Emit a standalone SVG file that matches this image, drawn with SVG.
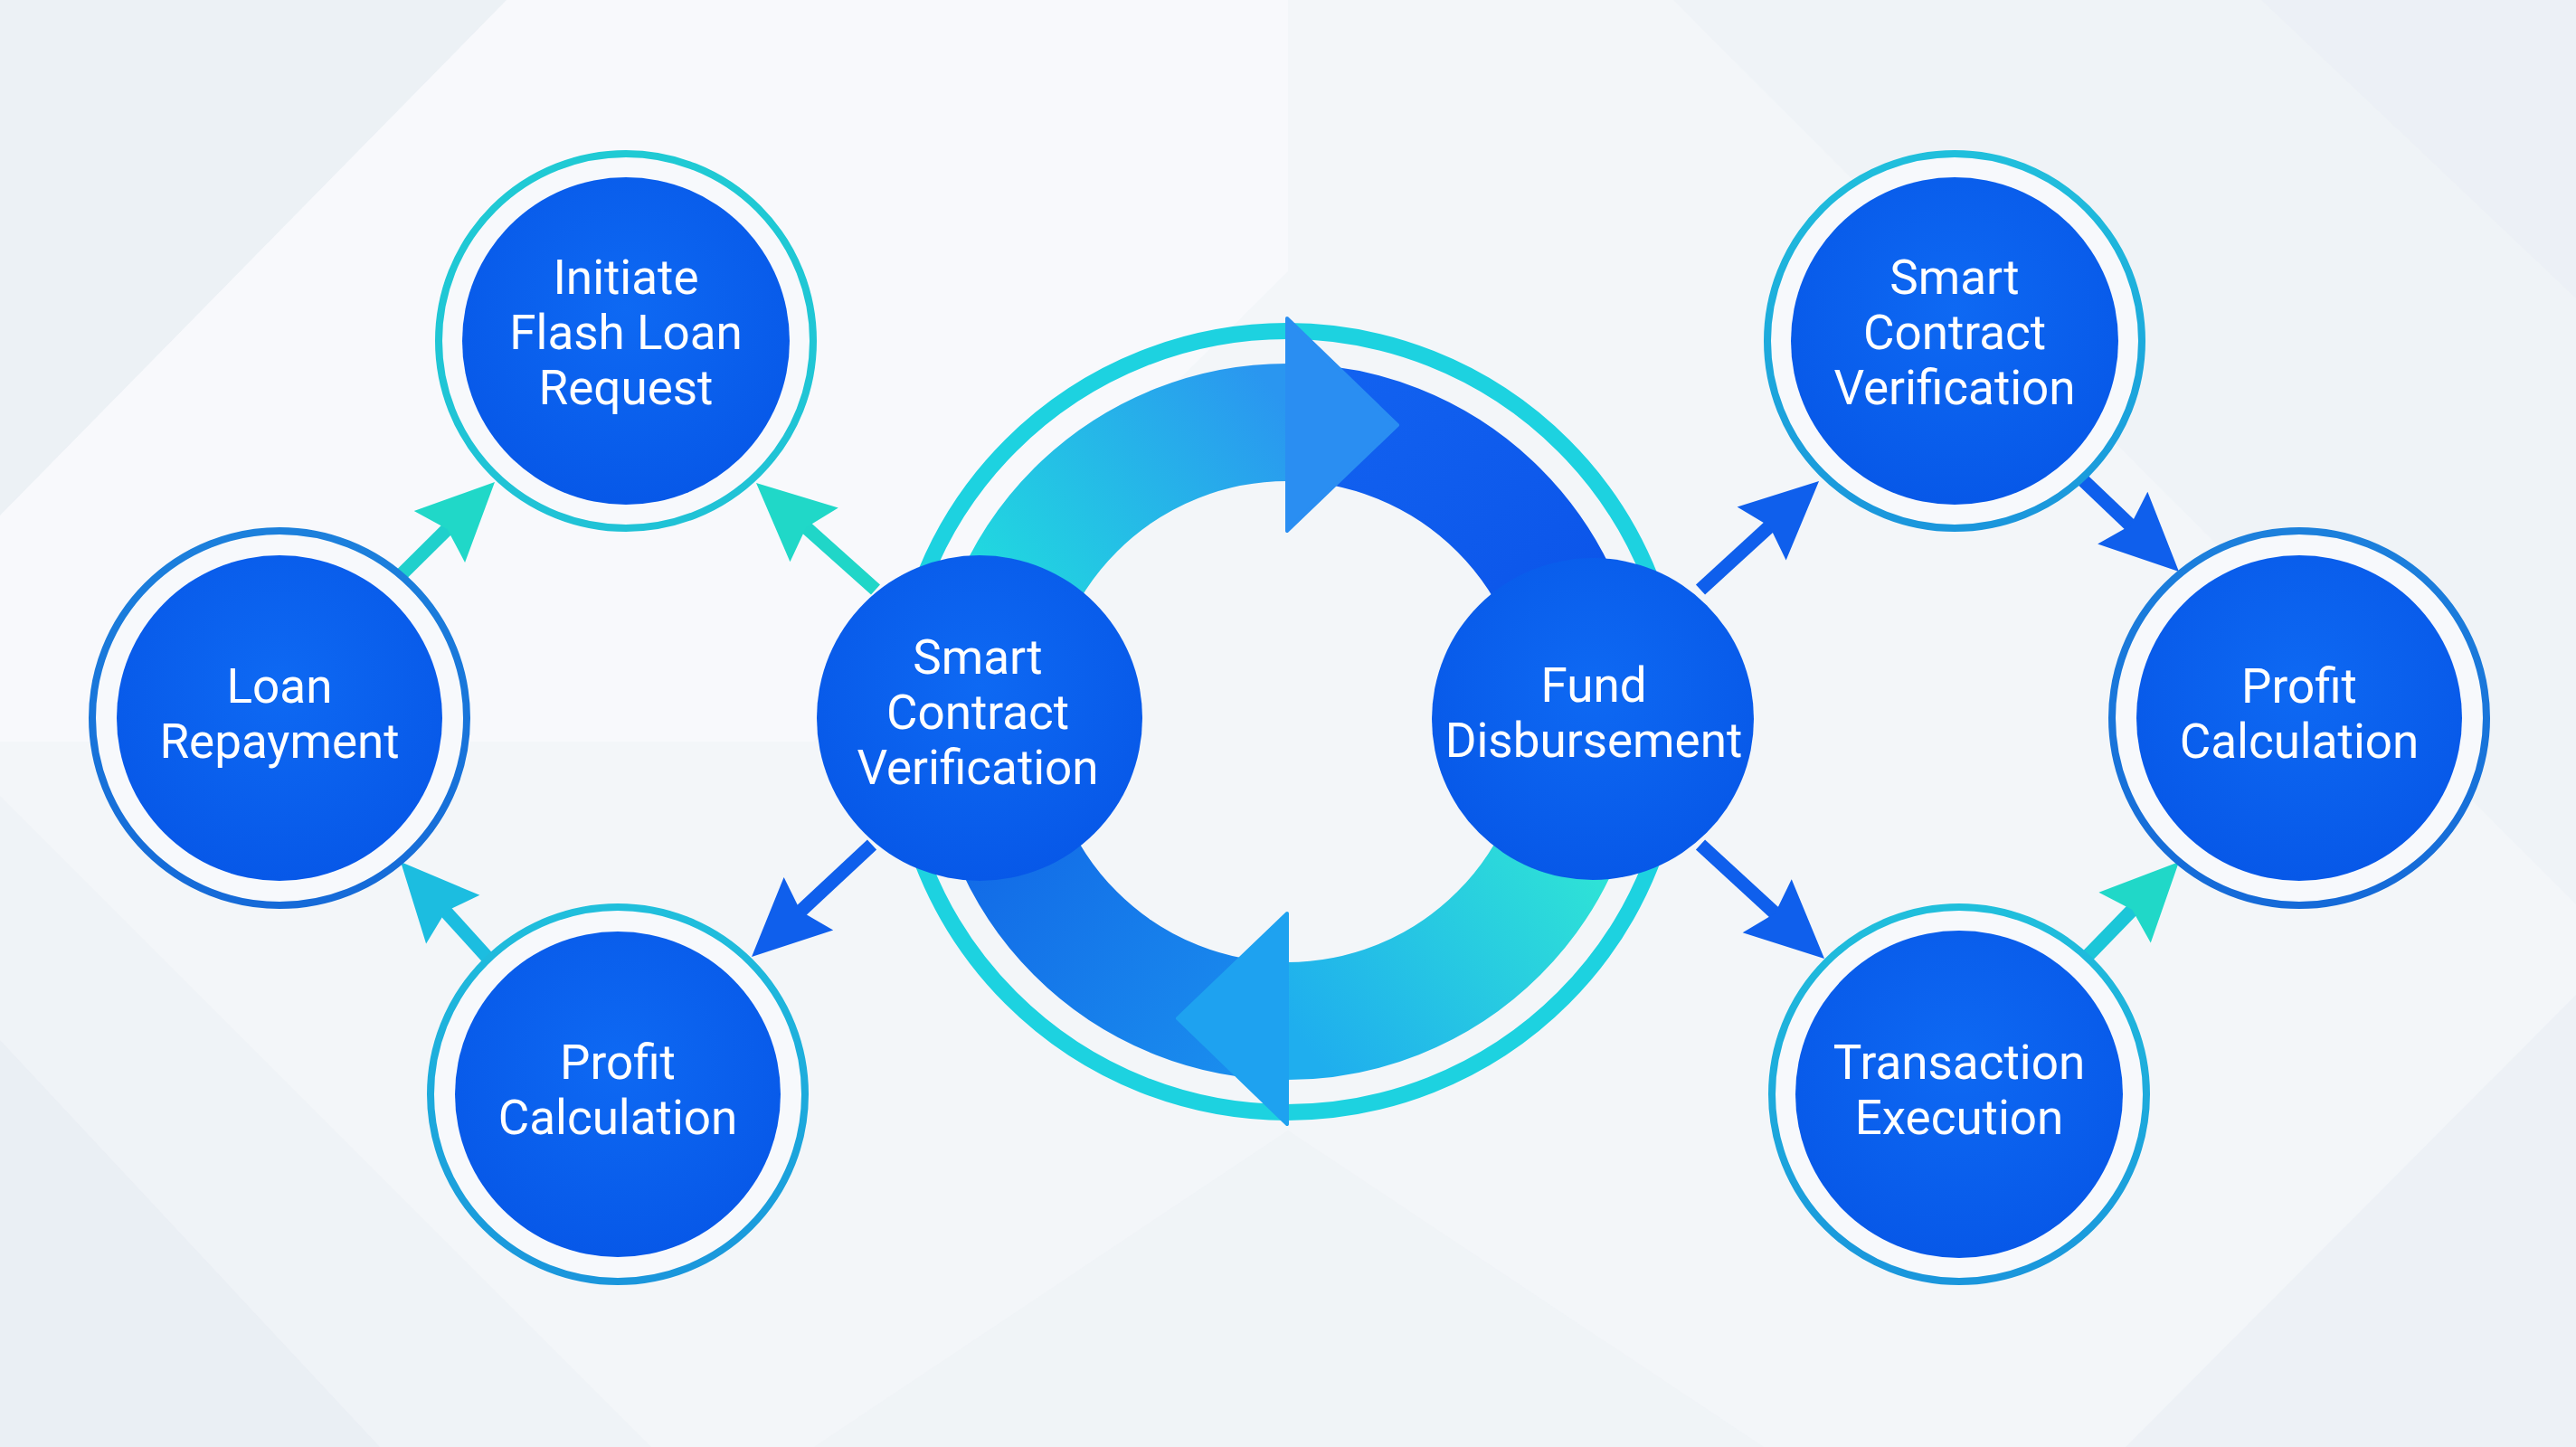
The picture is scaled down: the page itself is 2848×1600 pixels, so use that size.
<svg xmlns="http://www.w3.org/2000/svg" width="2848" height="1600" viewBox="0 0 2848 1600">
  <defs>
    <style>
      .lbl { font-family: Roboto, "Noto Sans", "Liberation Sans", sans-serif; font-size: 53px; font-weight: 400; fill: #ffffff; text-anchor: middle; }
      .ring { stroke-width: 8; fill: #f7f9fc; }
      .core { fill: url(#coreFill); }
      .conn { fill: none; stroke-width: 15; stroke-linecap: butt; }
    </style>
    <radialGradient id="coreFill" cx="50%" cy="40%" r="60%">
      <stop offset="0" stop-color="#0e69f3"/>
      <stop offset="1" stop-color="#0758e8"/>
    </radialGradient>
    <linearGradient id="ringTeal" x1="0" y1="0" x2="0" y2="1">
      <stop offset="0" stop-color="#1fcad4"/>
      <stop offset="1" stop-color="#20c2d6"/>
    </linearGradient>
    <linearGradient id="ringBlue" x1="0" y1="0" x2="0" y2="1">
      <stop offset="0" stop-color="#1c80dc"/>
      <stop offset="1" stop-color="#156ad8"/>
    </linearGradient>
    <linearGradient id="ringMix" x1="0" y1="0" x2="0" y2="1">
      <stop offset="0" stop-color="#20bfdc"/>
      <stop offset="1" stop-color="#1a96dc"/>
    </linearGradient>
    <linearGradient id="bandTL" gradientUnits="userSpaceOnUse" x1="1100" y1="700" x2="1423" y2="450">
      <stop offset="0" stop-color="#20dede"/>
      <stop offset="1" stop-color="#2a96f0"/>
    </linearGradient>
    <linearGradient id="bandTR" gradientUnits="userSpaceOnUse" x1="1423" y1="467" x2="1754" y2="798">
      <stop offset="0" stop-color="#1262f0"/>
      <stop offset="1" stop-color="#0a52e8"/>
    </linearGradient>
    <linearGradient id="bandBR" gradientUnits="userSpaceOnUse" x1="1754" y1="880" x2="1423" y2="1129">
      <stop offset="0" stop-color="#30e8d4"/>
      <stop offset="1" stop-color="#1faeee"/>
    </linearGradient>
    <linearGradient id="bandBL" gradientUnits="userSpaceOnUse" x1="1423" y1="1129" x2="1092" y2="850">
      <stop offset="0" stop-color="#1a8eee"/>
      <stop offset="1" stop-color="#1166e6"/>
    </linearGradient>
    <marker id="ahTeal" markerUnits="userSpaceOnUse" viewBox="-70 -50 110 100" markerWidth="110" markerHeight="100" refX="0" refY="0" orient="auto" overflow="visible">
      <path d="M28,0 L-58,-40 L-46,0 L-58,40 Z" fill="#20d8c8"/>
    </marker>
    <marker id="ahCyan" markerUnits="userSpaceOnUse" viewBox="-70 -50 110 100" markerWidth="110" markerHeight="100" refX="0" refY="0" orient="auto" overflow="visible">
      <path d="M28,0 L-58,-40 L-46,0 L-58,40 Z" fill="#1cbde0"/>
    </marker>
    <marker id="ahBlue" markerUnits="userSpaceOnUse" viewBox="-70 -50 110 100" markerWidth="110" markerHeight="100" refX="0" refY="0" orient="auto" overflow="visible">
      <path d="M28,0 L-58,-40 L-46,0 L-58,40 Z" fill="#0f5fec"/>
    </marker>
  </defs>

  <!-- background -->
  <g id="background">
    <rect x="0" y="0" width="2848" height="1600" fill="#f3f6f9"/>
    <polygon points="0,0 560,0 0,570" fill="#e6ebf2" opacity="0.5"/>
    <polygon points="560,0 1424,0 1424,300 900,820 0,820 0,570" fill="#fafbfd" opacity="0.7"/>
    <polygon points="1424,0 2500,0 2848,330 2848,0" fill="#eaeef4" opacity="0.45"/>
    <polygon points="1850,0 2848,0 2848,1000" fill="#e8edf3" opacity="0.35"/>
    <polygon points="0,1150 420,1600 0,1600" fill="#e2e8f0" opacity="0.5"/>
    <polygon points="0,880 720,1600 420,1600 0,1150" fill="#ebeff5" opacity="0.5"/>
    <polygon points="2848,1100 2848,1600 2350,1600" fill="#e6ebf2" opacity="0.45"/>
    <polygon points="900,1600 1424,1250 1950,1600" fill="#edf1f6" opacity="0.5"/>
  </g>

  <!-- central cycle -->
  <g id="cycle">
    <circle cx="1423" cy="798" r="432" fill="none" stroke="#1dd2e0" stroke-width="18"/>
    <path d="M1423,467 A331,331 0 0 1 1754,798" fill="none" stroke="url(#bandTR)" stroke-width="130"/>
    <path d="M1092,798 A331,331 0 0 1 1423,467" fill="none" stroke="url(#bandTL)" stroke-width="130"/>
    <polygon points="1423,352 1545,470 1423,587" fill="#2a8ef2" stroke="#2a8ef2" stroke-width="4" stroke-linejoin="round"/>
    <path d="M1423,1129 A331,331 0 0 1 1092,798" fill="none" stroke="url(#bandBL)" stroke-width="130"/>
    <path d="M1754,798 A331,331 0 0 1 1423,1129" fill="none" stroke="url(#bandBR)" stroke-width="130"/>
    <polygon points="1423,1010 1302,1126 1423,1243" fill="#1ea2f0" stroke="#1ea2f0" stroke-width="4" stroke-linejoin="round"/>
  </g>

  <!-- connectors -->
  <g id="connectors">
    <path class="conn" d="M443,636 L527.1,552.7" stroke="#1fd0cc" marker-end="url(#ahTeal)"/>
    <path class="conn" d="M968,652 L856.9,552.7" stroke="#20d6c8" marker-end="url(#ahTeal)"/>
    <path class="conn" d="M540,1060 L461.8,973.7" stroke="#1cbde0" marker-end="url(#ahCyan)"/>
    <path class="conn" d="M964,934 L851.5,1038.9" stroke="#0f5fec" marker-end="url(#ahBlue)"/>
    <path class="conn" d="M1880,652 L1990.4,550.9" stroke="#0f5fec" marker-end="url(#ahBlue)"/>
    <path class="conn" d="M2302,530 L2388.7,612.7" stroke="#0f5fec" marker-end="url(#ahBlue)"/>
    <path class="conn" d="M1880,934 L1996.4,1041" stroke="#0f5fec" marker-end="url(#ahBlue)"/>
    <path class="conn" d="M2308,1057 L2389.5,973.1" stroke="#1cc6d8" marker-end="url(#ahTeal)"/>
  </g>

  <!-- nodes -->
  <g id="node-initiate">
    <circle class="ring" cx="692" cy="377" r="207" stroke="url(#ringTeal)"/>
    <circle class="core" cx="692" cy="377" r="181"/>
    <text class="lbl" x="692" y="325">Initiate</text>
    <text class="lbl" x="692" y="386">Flash Loan</text>
    <text class="lbl" x="692" y="447">Request</text>
  </g>
  <g id="node-loan-repayment">
    <circle class="ring" cx="309" cy="794" r="207" stroke="url(#ringBlue)"/>
    <circle class="core" cx="309" cy="794" r="180"/>
    <text class="lbl" x="309" y="777">Loan</text>
    <text class="lbl" x="309" y="838">Repayment</text>
  </g>
  <g id="node-profit-left">
    <circle class="ring" cx="683" cy="1210" r="207" stroke="url(#ringMix)"/>
    <circle class="core" cx="683" cy="1210" r="180"/>
    <text class="lbl" x="683" y="1193">Profit</text>
    <text class="lbl" x="683" y="1254">Calculation</text>
  </g>
  <g id="node-smart-center">
    <circle class="core" cx="1083" cy="794" r="180"/>
    <text class="lbl" x="1081" y="745">Smart</text>
    <text class="lbl" x="1081" y="806">Contract</text>
    <text class="lbl" x="1081" y="867">Verification</text>
  </g>
  <g id="node-fund">
    <circle class="core" cx="1761" cy="795" r="178"/>
    <text class="lbl" x="1762" y="776">Fund</text>
    <text class="lbl" x="1762" y="837">Disbursement</text>
  </g>
  <g id="node-smart-right">
    <circle class="ring" cx="2161" cy="377" r="207" stroke="url(#ringMix)"/>
    <circle class="core" cx="2161" cy="377" r="181"/>
    <text class="lbl" x="2161" y="325">Smart</text>
    <text class="lbl" x="2161" y="386">Contract</text>
    <text class="lbl" x="2161" y="447">Verification</text>
  </g>
  <g id="node-profit-right">
    <circle class="ring" cx="2542" cy="794" r="207" stroke="url(#ringBlue)"/>
    <circle class="core" cx="2542" cy="794" r="180"/>
    <text class="lbl" x="2542" y="777">Profit</text>
    <text class="lbl" x="2542" y="838">Calculation</text>
  </g>
  <g id="node-transaction">
    <circle class="ring" cx="2166" cy="1210" r="207" stroke="url(#ringMix)"/>
    <circle class="core" cx="2166" cy="1210" r="181"/>
    <text class="lbl" x="2166" y="1193">Transaction</text>
    <text class="lbl" x="2166" y="1254">Execution</text>
  </g>
</svg>
